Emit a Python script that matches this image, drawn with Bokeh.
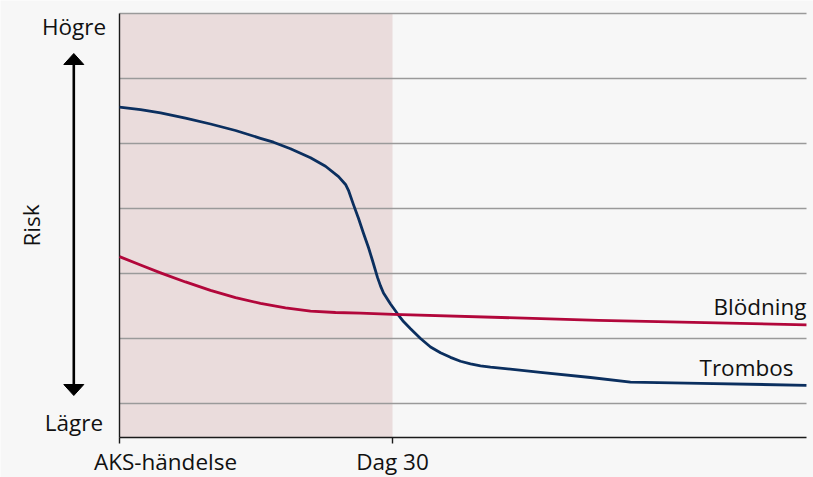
from bokeh.plotting import figure
from bokeh.models import Range1d, Label
from bokeh.embed import file_html
from bokeh.resources import INLINE

# ---- data (x: days after ACS event, y: relative risk level, grid 0..6) ----
trombos_x = [0.0, 2.31, 4.51, 7.25, 10.0, 12.75, 15.49, 16.92, 18.79, 20.99, 22.64, 24.07,
             24.84, 25.16, 25.71, 26.26, 26.81, 27.36, 27.8, 28.35, 28.68, 29.01, 29.78, 30.55,
             31.21, 31.98, 33.08, 34.18, 35.27, 36.37, 37.47, 38.57, 39.67, 40.77, 46.26,
             51.76, 56.15, 63.85, 75.49]
trombos_y = [4.56, 4.52, 4.47, 4.39, 4.30, 4.2, 4.08, 4.02, 3.92, 3.78, 3.65, 3.49,
             3.37, 3.28, 3.06, 2.85, 2.62, 2.4, 2.2, 1.94, 1.81, 1.70, 1.53, 1.38,
             1.26, 1.15, 1.0, 0.87, 0.78, 0.71, 0.65, 0.61, 0.58, 0.56, 0.48,
             0.4, 0.33, 0.31, 0.28]
blod_x = [0.0, 2.31, 4.51, 7.25, 10.0, 12.75, 15.49, 18.24, 20.99, 23.74, 26.48, 30.11,
          52.64, 75.49]
blod_y = [2.26, 2.13, 2.01, 1.87, 1.74, 1.63, 1.54, 1.47, 1.42, 1.4, 1.39, 1.37,
          1.28, 1.21]
series_names = ["Blödning", "Trombos"]
shade_x = [0, 30]
x_ticks = [0, 30]
x_tick_labels = ["AKS-händelse", "Dag 30"]
y_grid = [0, 1, 2, 3, 4, 5, 6]
y_labels = ["Högre", "Lägre"]
y_title = "Risk"

FONT = "Open Sans"
FS = "22.5px"
BG = "#f7f7f7"
BLUE = "#0b2f5f"
RED = "#b2073b"
AX = "#1a1a1a"
GRID = "#9a9a9a"

W, H = 813, 477
X0PX, X30PX = 119, 392
PPD = (X30PX - X0PX) / 30.0
Y0PX, PPU = 403, 65.0


def dx(px):
    return (px - X0PX) / PPD


def dy(py):
    return (Y0PX - py) / PPU


x_max = dx(806)
y_bot = dy(437)

p = figure(width=W, height=H, output_backend="svg", toolbar_location=None,
           x_range=Range1d(dx(0), dx(W)), y_range=Range1d(dy(H), dy(0)),
           min_border=0, min_border_left=0, min_border_right=0,
           min_border_top=0, min_border_bottom=0)
p.background_fill_color = BG
p.border_fill_color = BG
p.outline_line_color = None
p.axis.visible = False
p.grid.visible = False

# shaded first 30 days
p.quad(left=[shade_x[0]], right=[shade_x[1]], bottom=[y_bot], top=[max(y_grid)],
       fill_color="#eadcdc", line_color=None)

# grid lines
p.segment(x0=[0] * len(y_grid), x1=[x_max] * len(y_grid), y0=y_grid, y1=y_grid,
          line_color=GRID, line_width=1.3)

# axes
p.segment(x0=[0], x1=[x_max], y0=[y_bot], y1=[y_bot], line_color=AX, line_width=1.4)
p.segment(x0=[0], x1=[0], y0=[y_bot], y1=[max(y_grid)], line_color=AX, line_width=1.4)
p.segment(x0=x_ticks, x1=x_ticks, y0=[y_bot] * len(x_ticks), y1=[dy(443)] * len(x_ticks),
          line_color=AX, line_width=1.4)

# series
p.line(trombos_x, trombos_y, line_color=BLUE, line_width=2.8, line_join="round")
p.line(blod_x, blod_y, line_color=RED, line_width=2.8, line_join="round")

common = dict(text_font=FONT, text_font_size=FS, text_color="#111111",
              text_baseline="middle")

# x labels
p.add_layout(Label(x=dx(165), y=dy(461), text=x_tick_labels[0], text_align="center", **common))
p.add_layout(Label(x=x_ticks[1], y=dy(461), text=x_tick_labels[1], text_align="center", **common))

# y side labels
p.add_layout(Label(x=dx(73.5), y=dy(25.5), text=y_labels[0], text_align="center", **common))
p.add_layout(Label(x=dx(73.5), y=dy(422), text=y_labels[1], text_align="center", **common))
p.add_layout(Label(x=dx(30.5), y=dy(225), text=y_title, text_align="center",
                   angle=1.5708, **common))

# double-headed arrow
ax_ = dx(73.3)
p.segment(x0=[ax_], x1=[ax_], y0=[dy(62)], y1=[dy(386)], line_color="black", line_width=2.6)
p.patch(x=[dx(63.3), dx(83.3), ax_], y=[dy(64), dy(64), dy(53)],
        fill_color="black", line_color="black")
p.patch(x=[dx(63.3), dx(83.3), ax_], y=[dy(384), dy(384), dy(395)],
        fill_color="black", line_color="black")

# series labels
p.add_layout(Label(x=dx(806), y=dy(306), text=series_names[0], text_align="right", **common))
p.add_layout(Label(x=dx(793), y=dy(367), text=series_names[1], text_align="right", **common))

open("out.html", "w").write(file_html(p, INLINE))
